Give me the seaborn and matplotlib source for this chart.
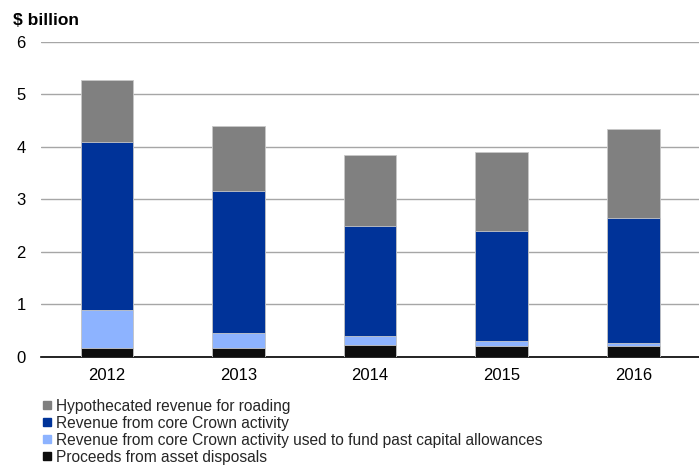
import numpy as np
import pandas as pd
import matplotlib
matplotlib.use("Agg")
import matplotlib.pyplot as plt
import seaborn as sns
from matplotlib.lines import Line2D

years = ["2012", "2013", "2014", "2015", "2016"]
proceeds = [0.17, 0.17, 0.22, 0.20, 0.20]
past_capital = [0.73, 0.29, 0.18, 0.11, 0.07]
core_crown = [3.20, 2.70, 2.10, 2.08, 2.37]
hypothecated = [1.17, 1.23, 1.34, 1.51, 1.70]

series_labels = [
    "Hypothecated revenue for roading",
    "Revenue from core Crown activity",
    "Revenue from core Crown activity used to fund past capital allowances",
    "Proceeds from asset disposals",
]
series_colors = ["#808080", "#003399", "#8DB3FF", "#0D0D0D"]

sns.set_theme(style="white")
plt.rcParams["font.family"] = ["Liberation Sans", "DejaVu Sans"]

fig = plt.figure(figsize=(6.99, 4.66), dpi=100)
ax = fig.add_axes([0.0587, 0.234, 0.9413, 0.676])

# cumulative stack heights, drawn tallest first so each layer overlays the one above it
layers = [proceeds, past_capital, core_crown, hypothecated]
cum = np.cumsum(np.array(layers), axis=0)
df = pd.DataFrame({"year": years})
for i in range(3, -1, -1):
    df["h"] = cum[i]
    sns.barplot(data=df, x="year", y="h", color=series_colors[3 - i],
                width=0.4, saturation=1, edgecolor="#C8C8C8", linewidth=0.6,
                ax=ax, zorder=3)

ax.set_ylim(0, 6)
ax.set_xlim(-0.5, 4.45)
ax.set_yticks(range(0, 7))
ax.yaxis.grid(True, color="#A6A6A6", linewidth=1.0)
ax.set_axisbelow(True)
for s in ["top", "right", "left"]:
    ax.spines[s].set_visible(False)
ax.spines["bottom"].set_color("black")
ax.spines["bottom"].set_linewidth(1.2)
ax.set_xlabel("")
ax.set_ylabel("")

ax.set_xticks(np.arange(-0.5, 5, 1), minor=True)
ax.tick_params(axis="x", which="major", length=0, pad=8, labelsize=12, colors="black")
ax.tick_params(axis="x", which="minor", length=5, width=1, color="black", direction="out")
ax.tick_params(axis="y", length=0, pad=11, labelsize=12, colors="black")

fig.text(0.018, 0.955, "$ billion", fontsize=12.5, fontweight="bold", color="black",
         ha="left", va="center")

handles = [Line2D([0], [0], marker="s", linestyle="none", markersize=6,
                  markerfacecolor=c, markeredgecolor=c) for c in series_colors]
fig.legend(handles, series_labels, loc="upper left", bbox_to_anchor=(0.061, 0.1445),
           frameon=False, fontsize=11.2, handlelength=0.55, handletextpad=0.33,
           labelspacing=0.13, borderpad=0, borderaxespad=0)

fig.savefig("out.png", dpi=100)
